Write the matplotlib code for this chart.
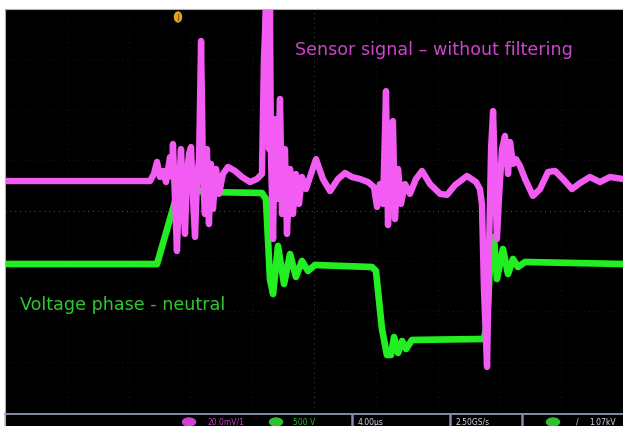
import matplotlib.pyplot as plt
from matplotlib.patches import Rectangle, Ellipse

# scope settings
ch1_scale = 20.0    # mV/div  (sensor)
ch2_scale = 500.0   # V/div   (voltage)
time_div = 4.0      # us/div

# CH1 - sensor signal, without filtering (time in us, value in mV)
sensor_t = [0.00, 9.39, 9.64, 9.84, 10.03, 10.23, 10.42, 10.68, 10.81, 10.87,
            11.00, 11.13, 11.26, 11.39, 11.52, 11.65, 11.78, 11.91, 12.04, 12.17,
            12.30, 12.43, 12.56, 12.69, 12.82, 12.94, 13.07, 13.20, 13.33, 13.46,
            13.66, 13.85, 14.11, 14.43, 14.89, 15.34, 15.86, 16.31, 16.63, 16.76,
            16.89, 16.96, 17.02, 17.09, 17.15, 17.22, 17.35, 17.48, 17.61, 17.80,
            17.93, 18.12, 18.25, 18.45, 18.64, 18.83, 19.03, 19.22, 19.48, 19.74,
            20.13, 20.58, 21.04, 21.55, 22.01, 22.46, 22.98, 23.50, 23.88, 24.08,
            24.27, 24.47, 24.66, 24.79, 24.92, 25.11, 25.24, 25.44, 25.63, 25.89,
            26.21, 26.60, 26.99, 27.51, 28.16, 28.61, 29.13, 29.90, 30.49, 30.74,
            30.87, 31.00, 31.20, 31.33, 31.46, 31.59, 31.72, 31.84, 31.97, 32.17,
            32.36, 32.56, 32.69, 32.88, 33.07, 33.33, 33.66, 34.17, 34.63, 35.15,
            35.60, 36.12, 36.70, 37.22, 37.86, 38.51, 39.16, 40.00]
sensor_mv = [11.7, 11.7, 14.5, 19.3, 13.3, 15.7, 11.3, 21.2, 13.3, 26.4,
             4.6, -16.1, 8.5, 24.4, 4.6, -9.3, 14.5, 22.4, 25.2, 4.6,
             -10.5, 12.5, 20.4, 67.3, 12.5, -1.4, 24.4, -5.4, 18.5, 0.6,
             16.5, 6.6, 14.5, 17.3, 15.7, 13.3, 11.3, 12.5, 14.5, 60.1,
             80.0, 30.0, 80.0, 24.4, 80.0, 20.0, -11.3, 36.3, 4.6, 44.3,
             -1.4, 24.4, -9.3, 16.5, -1.4, 14.5, 2.6, 13.3, 8.5, 13.3,
             20.4, 12.5, 7.7, 12.5, 14.9, 13.3, 12.5, 11.3, 9.3, 1.4,
             10.5, 2.6, 47.4, -5.8, 20.4, 35.5, -3.4, 16.5, 2.6, 10.5,
             6.6, 12.5, 15.7, 10.5, 6.6, 6.2, 10.1, 13.7, 11.3, 8.5,
             2.6, -31.2, -62.1, -15.3, 24.4, 39.5, 12.5, -11.3, 4.6, 24.4,
             29.6, 14.5, 27.2, 18.5, 20.4, 17.7, 12.5, 5.8, 8.5, 15.3,
             15.7, 12.5, 8.5, 10.9, 13.3, 11.3, 13.3, 12.5]

# CH2 - voltage phase - neutral (time in us, value in V)
volt_t = [0.00, 9.84, 11.20, 11.52, 11.97, 12.36, 12.94, 16.63, 16.89, 17.15,
          17.35, 17.67, 18.06, 18.45, 18.83, 19.22, 19.61, 20.06, 23.75, 24.01,
          24.40, 24.72, 24.98, 25.18, 25.44, 25.70, 25.96, 26.34, 31.00, 31.20,
          31.46, 31.65, 31.84, 32.23, 32.56, 32.88, 33.20, 33.66, 40.00]
volt_v = [-531, -531, 194, 233, 243, 203, 184, 174, 114, -680,
          -829, -352, -729, -432, -660, -501, -600, -541, -561, -600,
          -1176, -1434, -1434, -1256, -1414, -1295, -1375, -1285, -1275, -1126,
          -332, -263, -680, -382, -630, -481, -561, -511, -531]

W, H = 623, 427
fig = plt.figure(figsize=(W / 100, H / 100), dpi=100)
fig.patch.set_facecolor('white')

# scope screen
ax = fig.add_axes([5 / W, 1 - 413 / H, 618 / W, 403 / H])
ax.set_facecolor('black')
ax.set_xlim(0, 10 * time_div)
ax.set_ylim(-4, 4)
ax.set_xticks([])
ax.set_yticks([])
for s in ax.spines.values():
    s.set_visible(False)

# graticule (very faint on this capture)
for i in range(11):
    c = '#484848' if i == 5 else '#1a1a1a'
    ax.axvline(i * time_div, color=c, lw=0.7, ls=(0, (1, 4)), zorder=1)
for j in range(-4, 5):
    c = '#5e5e5e' if j == 0 else '#1a1a1a'
    ax.axhline(j, color=c, lw=0.7, ls=(0, (1, 4)), zorder=1)

green = '#22ee22'
pink = '#f25cf2'
ax.plot(volt_t, [v / ch2_scale for v in volt_v], color=green, lw=4.8,
        solid_joinstyle='round', zorder=3)
ax.plot(sensor_t, [v / ch1_scale for v in sensor_mv], color=pink, lw=4.6,
        solid_joinstyle='round', zorder=4)

ax.text(0.469, 0.90, 'Sensor signal \u2013 without filtering', transform=ax.transAxes,
        color='#cc44cc', fontsize=12.6, va='center', ha='left', zorder=5)
ax.text(0.024, 0.268, 'Voltage phase - neutral', transform=ax.transAxes,
        color='#2ec82e', fontsize=12.6, va='center', ha='left', zorder=5)

# overlay in pixel units for the scope frame / status bar
ov = fig.add_axes([0, 0, 1, 1])
ov.set_xlim(0, W)
ov.set_ylim(H, 0)
ov.axis('off')
ov.patch.set_alpha(0)

ov.plot([5, 5], [10, H], color='#b0b0b0', lw=0.8)
ov.plot([5, W], [10, 10], color='#b0b0b0', lw=0.8)

# trigger marker
ov.add_patch(Ellipse((178, 18), 7, 10, color='#e8a020'))
ov.plot([178, 178], [15, 21], color='#8a5a00', lw=0.8)

# status bar
ov.add_patch(Rectangle((5, 413), W - 5, H - 413, color='black'))
ov.plot([5, W], [415, 415], color='#98a6c6', lw=1.2)
for xd in [352, 450, 522]:
    ov.plot([xd, xd], [415, H], color='#7e8cb0', lw=1.8)

ov.add_patch(Ellipse((189, 423), 13, 8, color='#d040d0'))
ov.add_patch(Ellipse((276, 423), 13, 8, color='#30c030'))
ov.add_patch(Ellipse((553, 423), 13, 8, color='#30c030'))

st = dict(fontsize=5.5, va='center', ha='left')
ov.text(208, 422.5, '20.0mV/1', color='#c040c0', **st)
ov.text(293, 422.5, '500 V', color='#30b030', **st)
ov.text(358, 422.5, '4.00\u00b5s', color='#d8d8e8', **st)
ov.text(455, 422.5, '2.50GS/s', color='#d8d8e8', **st)
ov.text(576, 422.5, '/', color='#d8d8e8', **st)
ov.text(589, 422.5, '1.07kV', color='#d8d8e8', **st)

fig.savefig('out.png', dpi=100, facecolor=fig.get_facecolor())
